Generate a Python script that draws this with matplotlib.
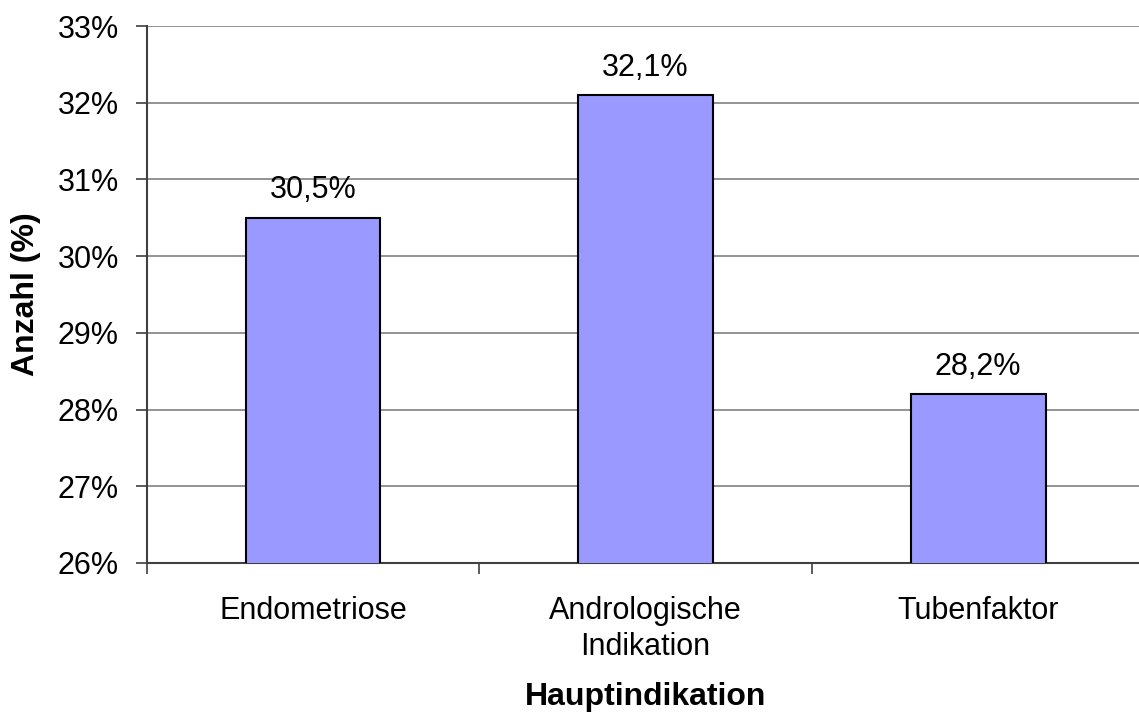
import numpy as np
import matplotlib.pyplot as plt
from matplotlib.ticker import FixedLocator, FuncFormatter

kategorien = ['Endometriose', 'Andrologische\nIndikation', 'Tubenfaktor']
anteile = [30.5, 32.1, 28.2]
y_ticks = [26, 27, 28, 29, 30, 31, 32, 33]

plt.rcParams['font.family'] = ['Liberation Sans', 'DejaVu Sans']

fig = plt.figure(figsize=(11.39, 7.15), dpi=100)
ax = fig.add_axes([0.1288, 0.2126, 0.876, 0.751])

x = np.arange(len(kategorien))
ax.bar(x, anteile, width=0.405, color='#9999FF', edgecolor='black', linewidth=1.5,
       bottom=0, zorder=3)
for xi, v in zip(x, anteile):
    ax.annotate(('%.1f%%' % v).replace('.', ','), (xi, v), xytext=(0, 9),
                textcoords='offset points', ha='center', va='bottom', fontsize=22)

ax.set_ylim(26, 33)
ax.set_xlim(-0.5, len(kategorien) - 0.5)
ax.set_yticks(y_ticks)
ax.yaxis.set_major_formatter(FuncFormatter(lambda v, p: '%d%%' % v))
ax.grid(axis='y', color='#808080', linewidth=1.2, zorder=0)

ax.set_xticks(x)
ax.set_xticklabels(kategorien, fontsize=22, linespacing=1.25)
ax.xaxis.set_minor_locator(FixedLocator(np.arange(-0.5, len(kategorien), 1.0)))
ax.tick_params(axis='x', which='major', length=0, pad=24)
ax.tick_params(axis='x', which='minor', length=8, width=1.2, color='#404040')
ax.tick_params(axis='y', length=8, width=1.2, color='#404040', labelsize=22, pad=12)

for s in ['top', 'right']:
    ax.spines[s].set_visible(False)
ax.spines['left'].set_color('#404040')
ax.spines['bottom'].set_color('#404040')
ax.spines['left'].set_linewidth(1.5)
ax.spines['bottom'].set_linewidth(1.5)

ax.set_ylabel('Anzahl (%)', fontsize=23, fontweight='bold', labelpad=12)
ax.set_xlabel('Hauptindikation', fontsize=23, fontweight='bold', labelpad=14)

fig.savefig('out.png', dpi=100)
